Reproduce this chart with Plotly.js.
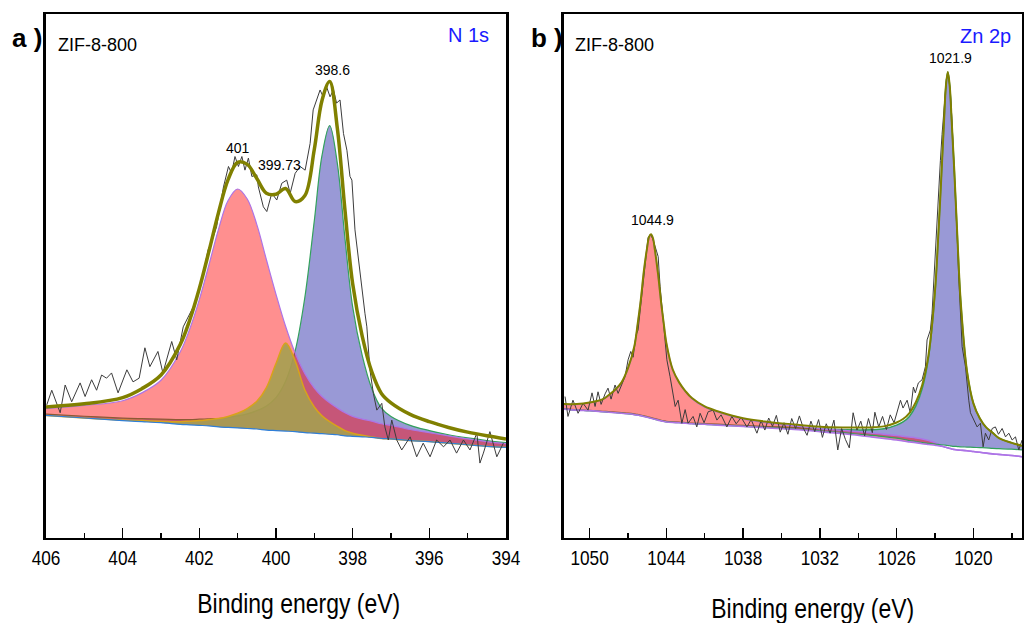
<!DOCTYPE html>
<html>
<head>
<meta charset="utf-8">
<script src="https://cdn.plot.ly/plotly-3.0.1.min.js"></script>
<style>html,body{margin:0;padding:0;background:#fff}#chart{width:1024px;height:623px}</style>
</head>
<body>
<div id="chart"></div>
<script>
// ---------- Panel a: N 1s (ZIF-8-800) ----------
const aEnergy = [406, 405, 404, 403.5, 403, 402.5, 402.25, 402, 401.75, 401.5, 401.25, 401, 400.75, 400.5, 400.25, 400, 399.75, 399.5, 399.25, 399, 398.8, 398.6, 398.4, 398.2, 398, 397.75, 397.5, 397.25, 397, 396.5, 396, 395.5, 395, 394.5, 394];
const aBackground = [23.4, 22.9, 22.4, 22.2, 22.0, 21.7, 21.6, 21.5, 21.4, 21.2, 21.1, 21.0, 20.9, 20.8, 20.6, 20.5, 20.4, 20.3, 20.1, 20.0, 19.9, 19.8, 19.7, 19.5, 19.4, 19.3, 19.2, 19.0, 18.9, 18.6, 18.4, 18.1, 17.8, 17.5, 17.3];
const aPeak401 = [1.3, 2.4, 3.8, 5.5, 8.1, 13.8, 18.3, 24.0, 30.7, 37.7, 43.3, 45.6, 43.8, 39.0, 32.5, 26.0, 20.0, 15.0, 11.3, 8.6, 7.1, 6.0, 5.1, 4.4, 3.8, 3.4, 3.1, 2.8, 2.6, 2.1, 1.7, 1.4, 1.1, 0.9, 0.7];
const aPeak39973 = [0, 0, 0.1, 0.2, 0.3, 0.5, 0.7, 0.9, 1.2, 1.6, 2.1, 2.8, 3.8, 5.3, 8.1, 12.8, 16.8, 13.5, 8.2, 5.0, 3.4, 2.4, 1.6, 1.0, 0.6, 0.3, 0.1, 0, 0, 0, 0, 0, 0, 0, 0];
const aPeak3986 = [0.25, 0.33, 0.47, 0.57, 0.7, 0.9, 1.0, 1.17, 1.35, 1.6, 1.9, 2.3, 2.8, 3.5, 4.6, 6.3, 9.5, 15.4, 25.7, 40.6, 53.1, 58.9, 51.8, 37.6, 24.7, 15.5, 9.3, 5.8, 4.3, 2.9, 2.1, 1.6, 1.3, 1.1, 0.9];
const aEnvelope = [25.0, 25.6, 26.8, 28.5, 31.1, 36.9, 41.6, 47.6, 54.7, 62.1, 68.4, 71.7, 71.3, 68.6, 65.8, 65.6, 66.7, 64.2, 65.3, 74.2, 83.5, 87.1, 78.2, 62.5, 48.5, 38.5, 31.7, 27.6, 25.8, 23.6, 22.2, 21.1, 20.2, 19.5, 18.9];
const aRawEnergy = [405.98, 405.85, 405.63, 405.50, 405.33, 405.11, 404.98, 404.81, 404.68, 404.55, 404.42, 404.29, 404.12, 403.89, 403.73, 403.57, 403.42, 403.29, 403.08, 402.95, 402.72, 402.59, 402.42, 402.24, 402.07, 401.90, 401.77, 401.68, 401.55, 401.37, 401.24, 401.16, 401.07, 400.98, 400.89, 400.81, 400.72, 400.63, 400.50, 400.46, 400.33, 400.24, 400.11, 399.98, 399.85, 399.72, 399.63, 399.50, 399.37, 399.24, 399.11, 399.03, 398.94, 398.85, 398.77, 398.68, 398.59, 398.50, 398.42, 398.33, 398.24, 398.15, 398.07, 398.02, 397.94, 397.85, 397.76, 397.68, 397.63, 397.55, 397.46, 397.37, 397.24, 397.16, 397.07, 396.98, 396.85, 396.72, 396.50, 396.33, 396.16, 395.98, 395.81, 395.63, 395.46, 395.29, 395.11, 394.94, 394.76, 394.68, 394.59, 394.42, 394.24, 394.07];
const aRawIntensity = [25.4, 28.2, 23.9, 29.2, 26.0, 29.6, 27.0, 30.2, 28.2, 31.1, 30.5, 31.5, 27.7, 32.1, 29.8, 30.5, 36.3, 32.7, 35.6, 31.5, 37.5, 34.0, 40.3, 42.9, 45.4, 50.5, 55.0, 56.5, 59.4, 67.0, 70.9, 69.6, 72.8, 70.9, 72.8, 70.2, 72.5, 69.0, 69.3, 67.0, 63.2, 62.3, 65.8, 64.5, 67.7, 68.3, 65.8, 69.6, 70.9, 70.2, 75.3, 81.7, 83.6, 85.5, 84.2, 86.1, 84.2, 85.5, 83.0, 83.6, 77.2, 74.0, 69.0, 68.3, 58.8, 53.1, 46.8, 42.9, 40.3, 32.1, 27.6, 24.4, 25.7, 21.2, 18.7, 22.5, 18.7, 16.8, 19.3, 15.5, 18.1, 15.5, 18.7, 17.4, 18.7, 16.2, 18.7, 16.8, 20.0, 14.3, 16.2, 20.3, 15.5, 18.1];
const aTicks = [406, 404, 402, 400, 398, 396, 394];
const aTickText = ['406', '404', '402', '400', '398', '396', '394'];

// ---------- Panel b: Zn 2p (ZIF-8-800) ----------
const bEnergy = [1052, 1051, 1050, 1049, 1048.5, 1048, 1047.5, 1047, 1046.5, 1046.25, 1046, 1045.75, 1045.5, 1045.35, 1045.2, 1045.05, 1044.9, 1044.65, 1044.4, 1044.2, 1044, 1043.5, 1043, 1042.5, 1042, 1041, 1040, 1038, 1036, 1034, 1032, 1030, 1028, 1027, 1026, 1025.5, 1025, 1024.5, 1024, 1023.5, 1023, 1022.75, 1022.5, 1022.3, 1022.15, 1022, 1021.85, 1021.7, 1021.5, 1021.25, 1021, 1020.5, 1020, 1019.5, 1019, 1018.5, 1018, 1017, 1016.2];
const bBackground = [24.6, 24.4, 24.3, 24.1, 24.0, 23.9, 23.8, 23.7, 23.55, 23.45, 23.35, 23.2, 23.05, 22.95, 22.85, 22.75, 22.65, 22.5, 22.35, 22.25, 22.15, 22.05, 22.0, 21.9, 21.8, 21.7, 21.55, 21.3, 21.05, 20.8, 20.45, 20.05, 19.6, 19.35, 19.05, 18.85, 18.6, 18.4, 18.2, 18.05, 17.9, 17.85, 17.8, 17.75, 17.7, 17.65, 17.6, 17.55, 17.5, 17.45, 17.4, 17.35, 17.3, 17.25, 17.2, 17.1, 17.05, 16.95, 16.8];
const bBackground2p1 = [24.6, 24.4, 24.3, 24.1, 24.0, 23.9, 23.8, 23.7, 23.55, 23.45, 23.35, 23.2, 23.05, 22.95, 22.85, 22.75, 22.65, 22.5, 22.35, 22.25, 22.15, 22.05, 22.0, 21.9, 21.8, 21.7, 21.55, 21.3, 21.0, 20.7, 20.3, 19.85, 19.3, 19.0, 18.7, 18.5, 18.35, 18.2, 18.0, 17.85, 17.7, 17.6, 17.5, 17.4, 17.3, 17.2, 17.1, 17.0, 16.9, 16.8, 16.75, 16.65, 16.5, 16.35, 16.2, 16.05, 15.95, 15.75, 15.5];
const bPeak1044 = [25.5, 25.5, 25.8, 26.4, 27.2, 28.2, 29.6, 32.3, 36.5, 40.6, 45.3, 51.0, 55.35, 57.35, 57.85, 57.15, 54.95, 50.3, 44.65, 40.75, 37.15, 32.05, 29.6, 27.9, 26.6, 25.0, 24.05, 22.7, 21.95, 21.4, 20.85, 20.5, 20.05, 19.8, 19.55, 19.4, 19.25, 19.1, 18.9, 18.6, 18.2, 17.95, 17.6, 17.4, 17.3, 17.2, 17.1, 17.0, 16.9, 16.8, 16.75, 16.65, 16.5, 16.35, 16.2, 16.05, 15.95, 15.75, 15.5];
const bPeak1021 = [24.65, 24.45, 24.35, 24.15, 24.1, 24.0, 23.9, 23.8, 23.65, 23.55, 23.45, 23.3, 23.15, 23.05, 22.95, 22.85, 22.75, 22.6, 22.45, 22.35, 22.25, 22.15, 22.1, 22.0, 21.9, 21.8, 21.7, 21.45, 21.25, 21.07, 20.83, 20.65, 20.65, 20.85, 21.55, 22.15, 23.2, 25.2, 28.5, 34.55, 46.9, 57.35, 69.3, 79.25, 86.2, 88.95, 86.3, 79.75, 70.5, 57.45, 45.4, 31.85, 25.7, 22.85, 21.1, 20.1, 19.05, 18.15, 17.6];
const bEnvelope = [25.55, 25.55, 25.85, 26.45, 27.3, 28.3, 29.7, 32.4, 36.6, 40.7, 45.4, 51.1, 55.45, 57.45, 57.95, 57.25, 55.05, 50.4, 44.75, 40.85, 37.25, 32.15, 29.7, 28.0, 26.7, 25.1, 24.2, 22.85, 22.15, 21.67, 21.23, 21.1, 21.1, 21.3, 22.05, 22.7, 23.85, 25.9, 29.2, 35.1, 47.2, 57.45, 69.3, 79.25, 86.2, 88.95, 86.3, 79.75, 70.5, 57.45, 45.4, 31.85, 25.7, 22.85, 21.1, 20.1, 19.05, 18.15, 17.6];
const bRawEnergy = [1051.92, 1051.69, 1051.30, 1050.90, 1050.51, 1050.12, 1049.81, 1049.57, 1049.34, 1049.10, 1048.79, 1048.56, 1048.32, 1048.01, 1047.77, 1047.46, 1047.23, 1046.99, 1046.78, 1046.60, 1046.37, 1046.21, 1046.00, 1045.82, 1045.58, 1045.43, 1045.22, 1045.04, 1044.75, 1044.64, 1044.49, 1044.25, 1043.96, 1043.71, 1043.47, 1043.31, 1043.08, 1042.79, 1042.53, 1042.30, 1041.91, 1041.62, 1041.36, 1041.05, 1040.73, 1040.34, 1040.05, 1039.72, 1039.27, 1038.88, 1038.54, 1038.15, 1037.70, 1037.37, 1036.92, 1036.6, 1036.3, 1036.0, 1035.7, 1035.4, 1035.1, 1034.8, 1034.5, 1034.2, 1033.9, 1033.6, 1033.3, 1033.0, 1032.7, 1032.4, 1032.1, 1031.8, 1031.5, 1031.2, 1030.9, 1030.6, 1030.3, 1030.0, 1029.7, 1029.4, 1029.1, 1028.8, 1028.5, 1028.2, 1027.9, 1027.7, 1027.4, 1027.1, 1026.8, 1026.5, 1026.2, 1025.95, 1025.7, 1025.5, 1025.18, 1024.93, 1024.69, 1024.54, 1024.30, 1024.01, 1023.75, 1023.62, 1023.36, 1023.23, 1023.10, 1022.97, 1022.84, 1022.71, 1022.58, 1022.45, 1022.34, 1022.22, 1022.11, 1021.95, 1021.80, 1021.68, 1021.56, 1021.45, 1021.33, 1021.24, 1021.15, 1021.05, 1020.96, 1020.88, 1020.62, 1020.49, 1020.36, 1020.23, 1019.97, 1019.71, 1019.45, 1019.24, 1019.06, 1018.80, 1018.53, 1018.28, 1018.04, 1017.75, 1017.49, 1017.23, 1016.97, 1016.71, 1016.45, 1016.19];
const bRawIntensity = [27.0, 23.2, 26.3, 23.8, 25.7, 24.4, 27.7, 25.1, 27.9, 25.5, 27.5, 28.6, 26.5, 29.2, 27.6, 29.6, 30.8, 34.0, 35.6, 34.5, 38.7, 39.7, 44.8, 49.2, 55.0, 57.3, 58.0, 56.9, 54.6, 53.7, 48.0, 41.6, 34.0, 30.8, 27.7, 25.1, 26.3, 21.9, 24.5, 21.9, 23.2, 21.2, 23.8, 22.0, 24.1, 24.4, 22.5, 23.5, 21.2, 23.2, 21.8, 23.0, 21.2, 22.6, 20.0, 22.4, 20.6, 22.9, 21.3, 23.4, 20.2, 22.0, 19.8, 22.8, 20.9, 23.3, 21.0, 19.6, 22.3, 20.3, 22.6, 19.2, 21.8, 20.0, 22.5, 16.8, 20.9, 18.8, 17.2, 23.9, 20.6, 22.3, 19.5, 22.8, 20.1, 24.0, 21.2, 23.2, 20.7, 23.5, 22.0, 24.3, 26.3, 24.8, 26.3, 23.9, 28.8, 27.7, 29.6, 30.2, 32.7, 37.8, 39.7, 42.9, 49.2, 55.6, 62.0, 66.5, 72.0, 77.0, 81.0, 85.0, 87.5, 88.5, 85.0, 80.0, 74.0, 69.0, 62.0, 56.0, 50.0, 44.0, 39.7, 36.5, 32.7, 28.9, 26.3, 23.9, 22.5, 21.2, 21.9, 17.4, 20.0, 18.7, 20.9, 21.2, 19.8, 20.9, 19.3, 20.0, 18.7, 19.3, 16.8, 18.7];
const bTicks = [1050, 1044, 1038, 1032, 1026, 1020];
const bTickText = ['1050', '1044', '1038', '1032', '1026', '1020'];

// ---------- styling ----------
const ARIAL = '"Liberation Sans", Arial, Helvetica, sans-serif';
const NARROW_SCALE = 0.82;   // Arial Narrow is ~82% of Arial width
const RED_FILL = 'rgba(255,0,0,0.44)';
const BLUE_FILL = 'rgba(0,0,153,0.40)';
const OLIVE_FILL = 'rgba(165,160,80,0.9)';
const PURPLE = '#ad74e6';
const GREEN = '#32a15c';
const GOLD = '#d9a21b';
const BASEBLUE = '#2f7fd8';
const ENV = '#808000';
const RAW = '#3c3c3c';

const addA = (h) => aEnergy.map((_, i) => aBackground[i] + h[i]);

function hidden(x, y, xa, ya) {
  return {x: x, y: y, xaxis: xa, yaxis: ya, mode: 'lines', line: {width: 0, shape: 'spline'}, hoverinfo: 'skip', showlegend: false};
}
function filled(x, y, xa, ya, color, fill, w, name) {
  return {x: x, y: y, xaxis: xa, yaxis: ya, name: name, mode: 'lines', fill: 'tonexty', fillcolor: fill,
          line: {color: color, width: w, shape: 'spline'}, showlegend: false};
}
function line(x, y, xa, ya, color, w, shape, name) {
  return {x: x, y: y, xaxis: xa, yaxis: ya, name: name, mode: 'lines', line: {color: color, width: w, shape: shape}, showlegend: false};
}

const traces = [
  // panel a
  hidden(aEnergy, aBackground, 'x', 'y'),
  filled(aEnergy, addA(aPeak3986), 'x', 'y', GREEN, BLUE_FILL, 1.2, '398.6'),
  hidden(aEnergy, aBackground, 'x', 'y'),
  filled(aEnergy, addA(aPeak401), 'x', 'y', PURPLE, RED_FILL, 1.2, '401'),
  hidden(aEnergy, aBackground, 'x', 'y'),
  filled(aEnergy, addA(aPeak39973), 'x', 'y', GOLD, OLIVE_FILL, 1.5, '399.73'),
  line(aEnergy, aBackground, 'x', 'y', BASEBLUE, 1.2, 'spline', 'background'),
  line(aRawEnergy, aRawIntensity, 'x', 'y', RAW, 1, 'linear', 'raw'),
  line(aEnergy, aEnvelope, 'x', 'y', ENV, 3.5, 'spline', 'envelope'),
  // panel b
  hidden(bEnergy, bBackground, 'x2', 'y2'),
  filled(bEnergy, bPeak1021, 'x2', 'y2', GREEN, BLUE_FILL, 1.5, '1021.9'),
  hidden(bEnergy, bBackground2p1, 'x2', 'y2'),
  filled(bEnergy, bPeak1044, 'x2', 'y2', PURPLE, RED_FILL, 1.5, '1044.9'),
  line(bEnergy, bBackground, 'x2', 'y2', GREEN, 1.2, 'spline', 'background'),
  line(bEnergy, bBackground2p1, 'x2', 'y2', PURPLE, 1.6, 'spline', 'background 2p1/2'),
  line(bRawEnergy, bRawIntensity, 'x2', 'y2', RAW, 1, 'linear', 'raw'),
  line(bEnergy, bEnvelope, 'x2', 'y2', ENV, 2, 'spline', 'envelope')
];

const W = 1024, H = 623;
const px = (v) => v / W;
const py = (v) => 1 - v / H;

function xaxisCfg(domain, range, ticks, text, minorStart, minorStep) {
  return {
    domain: domain, range: range, tickmode: 'array', tickvals: ticks, ticktext: text,
    ticks: 'inside', ticklen: 10, tickwidth: 1.5, tickcolor: '#000',
    showline: true, linecolor: '#000', linewidth: 2, mirror: true,
    showgrid: false, zeroline: false, ticklabelstandoff: 0,
    tickfont: {family: ARIAL, size: 21, color: '#000'},
    minor: {tick0: minorStart, dtick: minorStep, ticks: 'inside', ticklen: 5, tickwidth: 1.5, tickcolor: '#000', showgrid: false}
  };
}
function yaxisCfg() {
  return {
    domain: [85 / H, 609 / H], range: [0, 100], showticklabels: false, ticks: '',
    showline: true, linecolor: '#000', linewidth: 3, mirror: true, showgrid: false, zeroline: false
  };
}

function ann(text, x, y, size, opts) {
  return Object.assign({text: text, x: px(x), y: py(y), xref: 'paper', yref: 'paper', showarrow: false,
    xanchor: 'center', yanchor: 'middle', font: {family: ARIAL, size: size, color: '#000'}}, opts || {});
}

const layout = {
  width: W, height: H, margin: {l: 0, r: 0, t: 0, b: 0, pad: 0},
  paper_bgcolor: '#fff', plot_bgcolor: '#fff', showlegend: false,
  xaxis: Object.assign(xaxisCfg([46 / W, 506 / W], [406, 394], aTicks, aTickText, 406, 1), {anchor: 'y'}),
  yaxis: Object.assign(yaxisCfg(), {anchor: 'x'}),
  xaxis2: Object.assign(xaxisCfg([564 / W, 1022 / W], [1052, 1016.2], bTicks, bTickText, 1050, 3), {anchor: 'y2'}),
  yaxis2: Object.assign(yaxisCfg(), {anchor: 'x2'}),
  annotations: [
    ann('<b>a )</b>', 10, 38, 26, {xanchor: 'left'}),
    ann('<b>b )</b>', 529, 38, 26, {xanchor: 'left'}),
    ann('ZIF-8-800', 56, 45, 18, {xanchor: 'left'}),
    ann('ZIF-8-800', 573, 45, 18, {xanchor: 'left'}),
    ann('N 1s', 491, 35, 20, {xanchor: 'right', font: {family: ARIAL, size: 20, color: '#1a1aff'}}),
    ann('Zn 2p', 1013, 36, 20, {xanchor: 'right', font: {family: ARIAL, size: 20, color: '#1a1aff'}}),
    ann('398.6', 332, 70, 14),
    ann('401', 238, 148, 14),
    ann('399.73', 279, 165, 14),
    ann('1021.9', 950, 58, 14),
    ann('1044.9', 652, 220, 14),
    ann('Binding energy (eV)', 298, 603, 28),
    ann('Binding energy (eV)', 812, 608, 28)
  ]
};

// Condense the axis texts (tick labels, axis titles) the way Arial Narrow looks in the original.
function condense(gd) {
  const nodes = [];
  gd.querySelectorAll('.xtick text, .x2tick text').forEach(n => nodes.push(n));
  gd.querySelectorAll('.annotation-text').forEach(n => {
    if (n.textContent === 'Binding energy (eV)') nodes.push(n);
  });
  nodes.forEach(n => {
    const bb = n.getBBox();
    const cx = bb.x + bb.width / 2;
    const prev = n.getAttribute('transform') || '';
    n.setAttribute('transform', prev + ' translate(' + cx + ',0) scale(' + NARROW_SCALE + ',1) translate(' + (-cx) + ',0)');
  });
}

Plotly.newPlot('chart', traces, layout, {staticPlot: true, displayModeBar: false}).then(condense);
</script>
</body>
</html>
